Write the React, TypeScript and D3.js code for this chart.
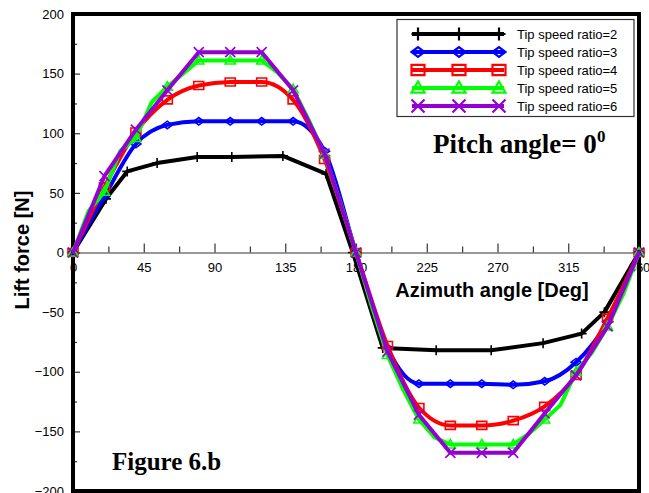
import React, { useRef, useEffect } from 'react';
import * as d3 from 'd3';

// angles [deg] and lift force [N]
const angles20 = [0, 20, 40, 60, 80, 100, 120, 140, 160, 180, 200, 220, 240, 260, 280, 300, 320, 340, 360];
const angles10 = [0, 10, 20, 30, 40, 50, 60, 70, 80, 90, 100, 110, 120, 130, 140, 150, 160, 170, 180,
    190, 200, 210, 220, 230, 240, 250, 260, 270, 280, 290, 300, 310, 320, 330, 340, 350, 360];
const anglesTsr2 = [0, 21, 34.5, 53.5, 79, 101, 133.5, 161, 178, 197, 231, 266, 299, 323.5, 338, 360];

const tsr2 = [0, 45, 68, 75, 80, 80, 81, 66, 0, -80, -82, -82, -76, -68, -50, 0];
const tsr3 = [0, 47, 91, 107, 110, 110, 110, 110, 85, 0, -80, -110, -110, -110, -111, -108, -92, -58, 0];
const tsr4 = [0, 55, 101, 128, 140, 143, 143, 128, 78, 0, -78, -130, -145, -145, -141, -129, -103, -55, 0];
const tsr5 = [0, 35, 51, 85, 96, 126, 139, 150, 161, 161, 161, 161, 161, 151, 137, 111, 82, 42, 0,
    -45, -86, -115, -140, -155, -161, -161, -161, -161, -161, -152, -140, -128, -100, -84, -62, -35, 0];
const tsr6 = [0, 64, 103, 136, 168, 168, 168, 136, 83, 0, -83, -136, -168, -168, -168, -135, -103, -62, 0];

const legendLabels = ['Tip speed ratio=2', 'Tip speed ratio=3', 'Tip speed ratio=4', 'Tip speed ratio=5', 'Tip speed ratio=6'];

const xTicks = [0, 45, 90, 135, 180, 225, 270, 315, 360];
const xMinor = [22.5, 67.5, 112.5, 157.5, 202.5, 247.5, 292.5, 337.5];
const yTicks = [-200, -150, -100, -50, 0, 50, 100, 150, 200];
const yMinor = [-175, -125, -75, -25, 25, 75, 125, 175];

const series = [
    { name: legendLabels[0], xs: anglesTsr2, ys: tsr2, color: '#000000', marker: 'plus', curve: d3.curveLinear, step: 1 },
    { name: legendLabels[1], xs: angles20, ys: tsr3, color: '#0000ff', marker: 'diamond', curve: d3.curveMonotoneX, step: 1 },
    { name: legendLabels[2], xs: angles20, ys: tsr4, color: '#ff0000', marker: 'square', curve: d3.curveMonotoneX, step: 1 },
    { name: legendLabels[3], xs: angles10, ys: tsr5, color: '#00ff00', marker: 'triangle', curve: d3.curveLinear, step: 2 },
    { name: legendLabels[4], xs: angles20, ys: tsr6, color: '#9400d3', marker: 'cross', curve: d3.curveLinear, step: 1 },
];

const sans = '"Liberation Sans", Arial, sans-serif';
const serif = '"Liberation Serif", "Times New Roman", serif';

function drawMarker(g, type, cx, cy, s, color, sw) {
    const p = d3.path();
    if (type === 'plus') {
        p.moveTo(cx - s, cy); p.lineTo(cx + s, cy);
        p.moveTo(cx, cy - s); p.lineTo(cx, cy + s);
    } else if (type === 'cross') {
        p.moveTo(cx - s, cy - s); p.lineTo(cx + s, cy + s);
        p.moveTo(cx - s, cy + s); p.lineTo(cx + s, cy - s);
    } else if (type === 'diamond') {
        p.moveTo(cx - s, cy); p.lineTo(cx, cy - s * 0.75); p.lineTo(cx + s, cy); p.lineTo(cx, cy + s * 0.75); p.closePath();
    } else if (type === 'square') {
        p.rect(cx - s, cy - s * 0.8, 2 * s, 1.6 * s);
    } else if (type === 'triangle') {
        p.moveTo(cx, cy - s); p.lineTo(cx + s, cy + s * 0.7); p.lineTo(cx - s, cy + s * 0.7); p.closePath();
    }
    g.append('path')
        .attr('d', p.toString())
        .attr('fill', 'none')
        .attr('stroke', color)
        .attr('stroke-width', sw);
}

const App = () => {
    const ref = useRef(null);

    useEffect(() => {
        const svg = d3.select(ref.current);
        svg.selectAll('*').remove();

        const left = 73, right = 639, top = 14, bottom = 491;

        const x = d3.scaleLinear().domain([0, 360]).range([left, right]);
        const y = d3.scaleLinear().domain([-200, 200]).range([bottom, top]);

        // y axis (ticks point inside)
        const yAxis = svg.append('g')
            .attr('transform', `translate(${left},0)`)
            .call(d3.axisLeft(y).tickValues(yTicks).tickSize(-7).tickPadding(9).tickFormat(d3.format('d')));
        yAxis.select('.domain').remove();
        yAxis.selectAll('line').attr('stroke', '#333').attr('stroke-width', 1.2);
        yAxis.selectAll('text').style('font-family', sans).style('font-size', '13px').attr('fill', '#000');

        const yAxisMinor = svg.append('g')
            .attr('transform', `translate(${left},0)`)
            .call(d3.axisLeft(y).tickValues(yMinor).tickSize(-4).tickFormat(() => ''));
        yAxisMinor.select('.domain').remove();
        yAxisMinor.selectAll('line').attr('stroke', '#333').attr('stroke-width', 1.2);

        // x axis at zero
        const xAxis = svg.append('g')
            .attr('transform', `translate(0,${y(0)})`)
            .call(d3.axisBottom(x).tickValues(xTicks).tickSize(-9).tickPadding(10).tickFormat(d3.format('d')));
        xAxis.select('.domain').attr('stroke', '#333').attr('stroke-width', 1.2);
        xAxis.selectAll('line').attr('stroke', '#333').attr('stroke-width', 1.2);
        xAxis.selectAll('text').style('font-family', sans).style('font-size', '13px').attr('fill', '#000');

        const xAxisMinor = svg.append('g')
            .attr('transform', `translate(0,${y(0)})`)
            .call(d3.axisBottom(x).tickValues(xMinor).tickSize(-6).tickFormat(() => ''));
        xAxisMinor.select('.domain').remove();
        xAxisMinor.selectAll('line').attr('stroke', '#333').attr('stroke-width', 1.2);

        // frame
        svg.append('rect')
            .attr('x', left).attr('y', top)
            .attr('width', right - left).attr('height', bottom - top)
            .attr('fill', 'none').attr('stroke', '#000').attr('stroke-width', 4);

        // titles
        svg.append('text')
            .attr('transform', `translate(22,250) rotate(-90)`)
            .attr('text-anchor', 'middle')
            .attr('dominant-baseline', 'central')
            .style('font-family', sans).style('font-weight', 'bold').style('font-size', '20px')
            .text('Lift force [N]');

        svg.append('text')
            .attr('x', 492).attr('y', 297)
            .attr('text-anchor', 'middle')
            .style('font-family', sans).style('font-weight', 'bold').style('font-size', '20px')
            .text('Azimuth angle [Deg]');

        const pitch = svg.append('text')
            .attr('x', 433).attr('y', 153)
            .style('font-family', serif).style('font-weight', 'bold').style('font-size', '27px')
            .text('Pitch angle= 0');
        pitch.append('tspan')
            .attr('dy', -11)
            .style('font-size', '17px')
            .text('0');

        svg.append('text')
            .attr('x', 112).attr('y', 470)
            .style('font-family', serif).style('font-weight', 'bold').style('font-size', '25px')
            .text('Figure 6.b');

        // series
        series.forEach(s => {
            const pts = s.xs.map((a, i) => [a, s.ys[i]]);
            const line = d3.line()
                .x(d => x(d[0]))
                .y(d => y(d[1]))
                .curve(s.curve);
            svg.append('path')
                .attr('d', line(pts))
                .attr('fill', 'none')
                .attr('stroke', s.color)
                .attr('stroke-width', 4)
                .attr('stroke-linejoin', 'round');
            const g = svg.append('g');
            pts.forEach((d, i) => {
                if (i % s.step !== 0) return;
                drawMarker(g, s.marker, x(d[0]), y(d[1]), 5, s.color, 1.6);
            });
        });

        // legend
        const lg = svg.append('g');
        lg.append('rect')
            .attr('x', 397).attr('y', 19.5)
            .attr('width', 237).attr('height', 97)
            .attr('fill', '#fff').attr('stroke', '#333').attr('stroke-width', 1.2);

        series.forEach((s, i) => {
            const ly = 34 + i * 18;
            lg.append('line')
                .attr('x1', 412).attr('x2', 504)
                .attr('y1', ly).attr('y2', ly)
                .attr('stroke', s.color).attr('stroke-width', 4);
            [418, 459, 499].forEach(mx => drawMarker(lg, s.marker, mx, ly, 6.5, s.color, 2.2));
            lg.append('text')
                .attr('x', 517).attr('y', ly)
                .attr('dominant-baseline', 'central')
                .style('font-family', sans).style('font-size', '13px')
                .text(s.name);
        });
    }, []);

    return (
        <svg ref={ref} width={649} height={493}
            style={{ position: 'absolute', left: 0, top: 0, background: '#fff' }} />
    );
};

export default App;
